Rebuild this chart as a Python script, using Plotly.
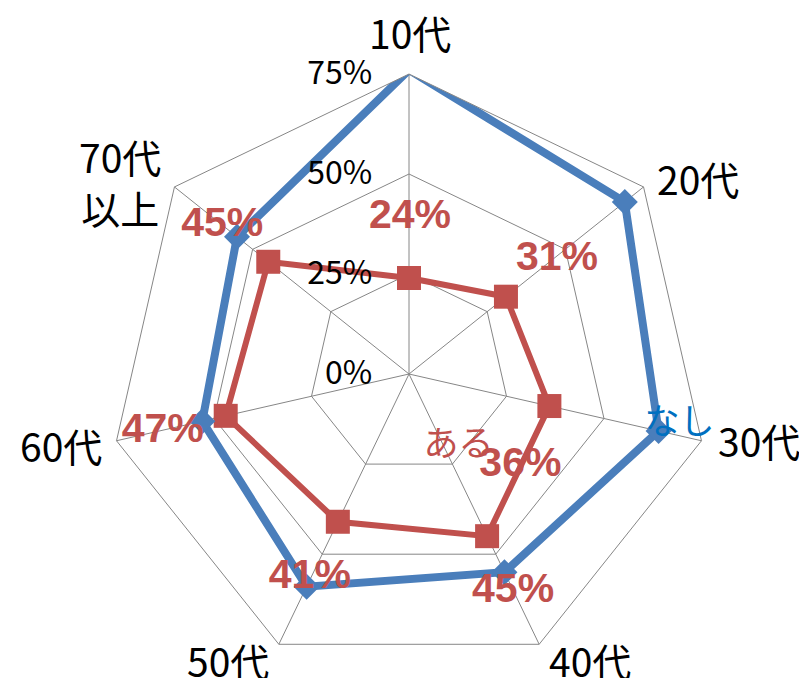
import math
import plotly.graph_objects as go

# ---- data ----
categories = ["10代", "20代", "30代", "40代", "50代", "60代", "70代<br>以上"]
aru_values = [24, 31, 36, 45, 41, 47, 45]      # ある (%)
nashi_values = [76, 69, 64, 55, 59, 53, 55]    # なし (%)
aru_labels = ["24%", "31%", "36%", "45%", "41%", "47%", "45%"]
tick_vals = [0, 25, 50, 75]
tick_text = ["0%", "25%", "50%", "75%"]

# ---- style ----
# page body has an 8px margin, so the figure is a bit smaller than the window
W, H = 799, 670
CX, CY, R = 401, 366, 300          # polar centre / radius in px (figure coords)
RMAX = 75
RED = "#C0504D"
BLUE = "#4A7EBB"
GRID = "#868686"
# label offsets in px (dx right, dy down) from their data point
aru_label_off = [(1, -60), (51, -37), (-29, 60), (26, 56), (-28, 56), (-63, 16), (-46, -36)]
aru_name_off = (-91, 41)     # "ある" next to 30代 point
nashi_name_off = (21, -6)    # "なし" next to 30代 point
# category label offsets in px from the outer vertex
cat_label_off = [(1, -42), (54, -9), (58, -1), (51, 16), (-51, 16), (-56, 4), (-54, -5)]

n = len(categories)
step = 360.0 / n
scale = R / RMAX


def offset_px(value, idx, off):
    ang = math.radians(idx * step)
    px = value * scale * math.sin(ang) + off[0]
    py = -value * scale * math.cos(ang) + off[1]
    return px, py


def offset_polar(value, idx, off):
    px, py = offset_px(value, idx, off)
    r = math.hypot(px, py) / scale
    th = math.degrees(math.atan2(px, -py)) % 360
    return r, th


fig = go.Figure()

closed_cats = categories + categories[:1]
fig.add_trace(go.Scatterpolar(
    r=aru_values + aru_values[:1], theta=closed_cats, mode="lines+markers",
    line=dict(color=RED, width=6), marker=dict(symbol="square", size=24, color=RED),
    name="ある", subplot="polar", cliponaxis=False))
fig.add_trace(go.Scatterpolar(
    r=nashi_values + nashi_values[:1], theta=closed_cats, mode="lines+markers",
    line=dict(color=BLUE, width=8), marker=dict(symbol="diamond", size=20, color=BLUE),
    name="なし", subplot="polar", cliponaxis=False))

# data labels
lr, lt = [], []
for i, v in enumerate(aru_values):
    r, t = offset_polar(v, i, aru_label_off[i])
    lr.append(r); lt.append(t)
fig.add_trace(go.Scatterpolar(
    r=lr, theta=lt, mode="text", text=["<b>%s</b>" % s for s in aru_labels],
    textfont=dict(family="Liberation Sans, Arial", size=41, color=RED),
    subplot="polar2", cliponaxis=False, hoverinfo="skip"))
r1, t1 = offset_polar(aru_values[2], 2, aru_name_off)
fig.add_trace(go.Scatterpolar(
    r=[r1], theta=[t1], mode="text", text=["ある"],
    textfont=dict(family="Noto Sans CJK JP", size=35, color=RED),
    subplot="polar2", cliponaxis=False, hoverinfo="skip"))
r2, t2 = offset_polar(nashi_values[2], 2, nashi_name_off)
fig.add_trace(go.Scatterpolar(
    r=[r2], theta=[t2], mode="text", text=["なし"],
    textfont=dict(family="Noto Sans CJK JP", size=35, color="#0070C0"),
    subplot="polar2", cliponaxis=False, hoverinfo="skip"))

# category labels (outside the plotting circle) as annotations
annotations = []
for i, cat in enumerate(categories):
    px, py = offset_px(RMAX, i, cat_label_off[i])
    annotations.append(dict(
        x=(CX + px) / W, y=1 - (CY + py) / H, xref="paper", yref="paper",
        text=cat, showarrow=False, xanchor="center", yanchor="middle",
        font=dict(family="Noto Sans CJK JP", size=39, color="black")))

dom = dict(x=[(CX - R) / W, (CX + R) / W], y=[(H - CY - R) / H, (H - CY + R) / H])

fig.update_layout(
    width=W, height=H, margin=dict(l=0, r=0, t=0, b=0),
    paper_bgcolor="white", showlegend=False, annotations=annotations,
    polar=dict(
        domain=dom, bgcolor="white", gridshape="linear",
        radialaxis=dict(range=[0, RMAX], tickvals=tick_vals, ticktext=tick_text,
                        angle=90, tickangle=90, side="counterclockwise",
                        showline=False, gridcolor=GRID, gridwidth=1,
                        ticks="outside", ticklen=25, tickcolor="rgba(0,0,0,0)",
                        tickfont=dict(family="Noto Sans CJK JP", size=32, color="black")),
        angularaxis=dict(direction="clockwise", rotation=90, type="category",
                         categoryarray=categories, showticklabels=False,
                         showline=True, linecolor=GRID, linewidth=1,
                         gridcolor=GRID, gridwidth=1, ticks=""),
    ),
    polar2=dict(
        domain=dom, bgcolor="rgba(0,0,0,0)",
        radialaxis=dict(range=[0, RMAX], visible=False),
        angularaxis=dict(direction="clockwise", rotation=90, visible=False),
    ),
)

fig.write_html("out.html")
